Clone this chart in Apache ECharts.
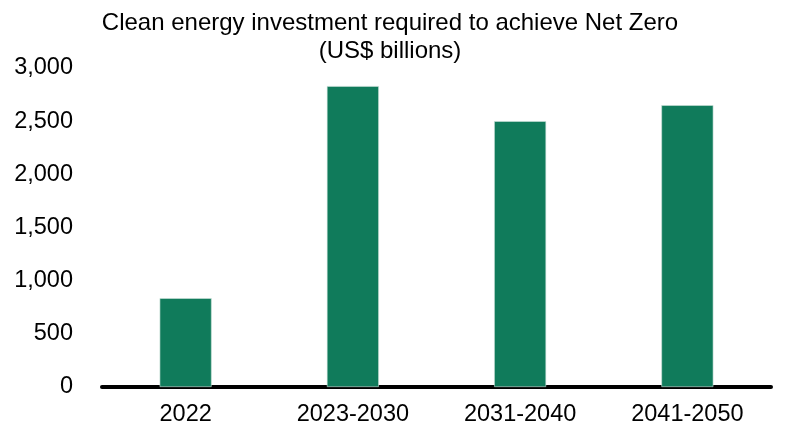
<!DOCTYPE html>
<html>
<head>
<meta charset="utf-8">
<script src="https://cdn.jsdelivr.net/npm/echarts@6/dist/echarts.min.js"></script>
<style>html,body{margin:0;padding:0;background:#fff;}#c{width:794px;height:438px;}</style>
</head>
<body>
<div id="c"></div>
<script>
const categories = ["2022", "2023-2030", "2031-2040", "2041-2050"];
const investment = [835, 2830, 2500, 2650];
const titleLines = ["Clean energy investment required to achieve Net Zero", "(US$ billions)"];

const chart = echarts.init(document.getElementById('c'), null, {renderer: 'canvas'});
const font = 'Liberation Sans, Arial, sans-serif';
chart.setOption({
  animation: false,
  backgroundColor: '#ffffff',
  title: {
    text: titleLines.join('\n'),
    left: 385,
    top: 4,
    textAlign: 'center',
    textStyle: {fontFamily: font, fontSize: 24, fontWeight: 'normal', color: '#000', lineHeight: 28}
  },
  grid: {left: 102, right: 23, top: 68, bottom: 51, containLabel: false},
  xAxis: {
    type: 'category',
    data: categories,
    axisLine: {lineStyle: {color: '#000', width: 4}},
    axisTick: {show: false},
    axisLabel: {fontFamily: font, fontSize: 23.5, color: '#000', margin: 16}
  },
  yAxis: {
    type: 'value',
    min: 0, max: 3000, interval: 500,
    axisLine: {show: false},
    axisTick: {show: false},
    splitLine: {show: false},
    axisLabel: {
      fontFamily: font, fontSize: 23.5, color: '#000', margin: 29,
      formatter: v => v.toLocaleString('en-US')
    }
  },
  series: [{
    type: 'bar',
    data: investment,
    barWidth: 52,
    itemStyle: {color: '#107B5B', borderColor: '#cfe3dc', borderWidth: 0.6},
    z: 1
  }]
});
</script>
</body>
</html>
